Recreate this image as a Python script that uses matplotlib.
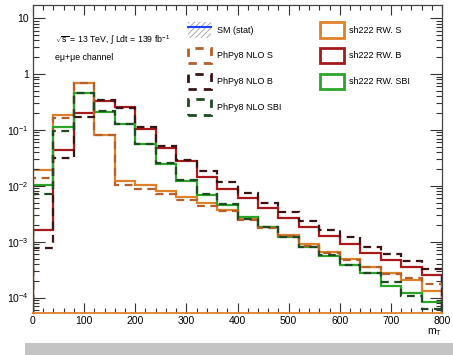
import numpy as np
import matplotlib
matplotlib.use('Agg')
import matplotlib.pyplot as plt
from matplotlib.patches import Patch, Rectangle
from matplotlib.lines import Line2D

plt.rcParams['font.family'] = ['Liberation Sans', 'DejaVu Sans']
plt.rcParams['mathtext.fontset'] = 'custom'
plt.rcParams['mathtext.rm'] = 'Liberation Sans'
plt.rcParams['mathtext.it'] = 'Liberation Sans:italic'
plt.rcParams['hatch.linewidth'] = 0.6

# bin edges of m_T (40 GeV bins)
edges = np.arange(0, 840, 40)

# sh222 reweighted, solid
rw_S = [0.0192, 0.185, 0.70, 0.081, 0.0124, 0.0103, 0.0082, 0.0064, 0.0049, 0.0037,
        0.00255, 0.00181, 0.00132, 0.00090, 0.00066, 0.00049, 0.00036, 0.00027, 0.000206, 0.000133]
rw_B = [0.00162, 0.0437, 0.203, 0.333, 0.254, 0.102, 0.047, 0.0278, 0.0146, 0.0088,
        0.00597, 0.00395, 0.00269, 0.00181, 0.00127, 0.00090, 0.00062, 0.00047, 0.00035, 0.00025]
rw_SBI = [0.0102, 0.111, 0.45, 0.212, 0.128, 0.056, 0.025, 0.0122, 0.0068, 0.00454,
          0.0028, 0.00181, 0.0012, 0.00079, 0.00055, 0.00039, 0.00028, 0.00016, 0.000122, 0.0000824]

# PhPy8 NLO, dashed
nlo_S = [0.0136, 0.161, 0.70, 0.080, 0.0103, 0.0086, 0.0071, 0.0056, 0.0044, 0.0035,
         0.0024, 0.00173, 0.00127, 0.00083, 0.00063, 0.00047, 0.00035, 0.00026, 0.00022, 0.000172]
nlo_B = [0.00076, 0.031, 0.168, 0.34, 0.245, 0.114, 0.052, 0.029, 0.0184, 0.0116,
         0.0075, 0.0050, 0.00344, 0.00234, 0.00162, 0.0012, 0.00081, 0.0006, 0.00045, 0.00033]
nlo_SBI = [0.0071, 0.0955, 0.46, 0.215, 0.13, 0.057, 0.026, 0.0125, 0.007, 0.0047,
           0.0026, 0.00181, 0.00123, 0.00081, 0.00058, 0.00038, 0.00028, 0.000193, 0.000106, 0.0000634]

c_rwS, c_rwB, c_rwSBI = '#e0812a', '#a8191c', '#2aa52a'
c_nS, c_nB, c_nSBI = '#b5602c', '#3a1414', '#1f4a22'

fig = plt.figure(figsize=(4.53, 3.55), dpi=100)
ax = fig.add_axes([33/453, 1-313/355, 409/453, 308/355])

lw = 1.6
ax.stairs(rw_S, edges, color=c_rwS, lw=lw)
ax.stairs(rw_B, edges, color=c_rwB, lw=lw)
ax.stairs(rw_SBI, edges, color=c_rwSBI, lw=lw)
dash = (0, (3.5, 2.5))
ax.stairs(nlo_S, edges, color=c_nS, lw=lw, linestyle=dash)
ax.stairs(nlo_B, edges, color=c_nB, lw=lw, linestyle=dash)
ax.stairs(nlo_SBI, edges, color=c_nSBI, lw=lw, linestyle=dash)

ax.set_yscale('log')
ax.set_xlim(0, 800)
ax.set_ylim(5.3e-5, 17.2)

ax.set_xticks(np.arange(0, 900, 100))
ax.set_xticks(np.arange(0, 820, 20), minor=True)
ax.set_yticks([1e-4, 1e-3, 1e-2, 1e-1, 1, 10])
ax.set_yticklabels([r'$10^{-4}$', r'$10^{-3}$', r'$10^{-2}$', r'$10^{-1}$', '1', '10'])
ax.tick_params(axis='both', which='both', direction='in', top=True, right=True,
               colors='#333333', labelcolor='black', labelsize=7.5, width=0.8)
ax.tick_params(axis='y', which='major', length=8.5, pad=3)
ax.tick_params(axis='y', which='minor', length=4.3)
ax.tick_params(axis='x', which='major', length=7, pad=2.5)
ax.tick_params(axis='x', which='minor', length=3.5)
for s in ['left', 'right', 'top']:
    ax.spines[s].set_color('#444444')
    ax.spines[s].set_linewidth(0.9)
ax.spines['bottom'].set_color(c_rwS)
ax.spines['bottom'].set_linewidth(1.3)

ax.set_xlabel(r'm$_{\mathrm{T}}$', loc='right', fontsize=7.5, labelpad=0)

ax.text(0.055, 0.885, r'$\sqrt{\mathrm{s}}$ = 13 TeV, $\int$ Ldt = 139 fb$^{-1}$',
        transform=ax.transAxes, fontsize=6.3, va='center')
ax.text(0.055, 0.83, 'e\u03bc+\u03bce channel', transform=ax.transAxes,
        fontsize=6.3, va='center')

sm_handle = (Patch(facecolor='white', edgecolor='#a0a0a0', lw=0, hatch='//////'),
             Line2D([], [], color='#1f3fff', lw=1.5))
dashbox = (0, (3, 2.5))
h_left = [sm_handle,
          Patch(facecolor='none', edgecolor=c_nS, lw=2, linestyle=dashbox),
          Patch(facecolor='none', edgecolor=c_nB, lw=2, linestyle=dashbox),
          Patch(facecolor='none', edgecolor=c_nSBI, lw=2, linestyle=dashbox)]
l_left = ['SM (stat)', 'PhPy8 NLO S', 'PhPy8 NLO B', 'PhPy8 NLO SBI']
h_right = [Patch(facecolor='none', edgecolor=c_rwS, lw=2),
           Patch(facecolor='none', edgecolor=c_rwB, lw=2),
           Patch(facecolor='none', edgecolor=c_rwSBI, lw=2)]
l_right = ['sh222 RW. S', 'sh222 RW. B', 'sh222 RW. SBI']

kw = dict(loc='upper left', frameon=False, fontsize=6.5, handlelength=2.6,
          handleheight=2.3, handletextpad=0.6, labelspacing=1.12,
          borderpad=0, borderaxespad=0)
leg1 = ax.legend(h_left, l_left, bbox_to_anchor=(0.379, 0.945), **kw)
ax.add_artist(leg1)
ax.legend(h_right, l_right, bbox_to_anchor=(0.702, 0.945), **kw)

fig.patches.append(Rectangle((25/453, 0), 1, 12/355, transform=fig.transFigure,
                             facecolor='#c4c4c4', edgecolor='none'))

fig.savefig('out.png', dpi=100)
